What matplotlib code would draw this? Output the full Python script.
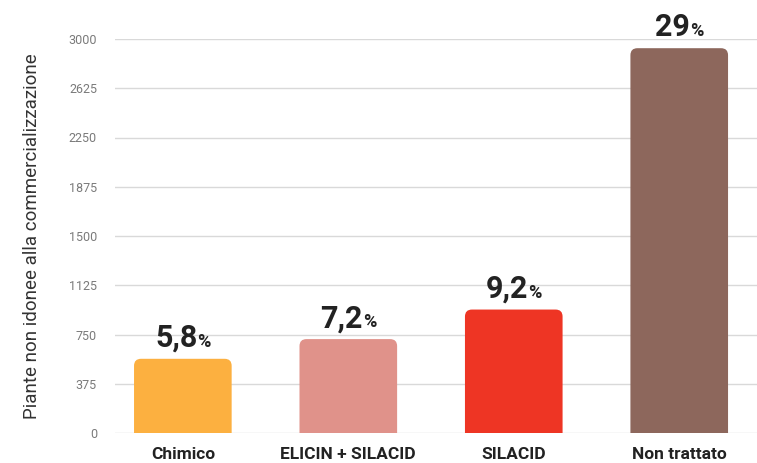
import matplotlib
matplotlib.use("Agg")
import matplotlib.pyplot as plt
from matplotlib.patches import FancyBboxPatch

# dati
categorie = ["Chimico", "ELICIN + SILACID", "SILACID", "Non trattato"]
valori = [565, 715, 940, 2930]
percentuali = ["5,8", "7,2", "9,2", "29"]
colori = ["#FCB040", "#E0928A", "#EE3524", "#8D675C"]
yticks = [0, 375, 750, 1125, 1500, 1875, 2250, 2625, 3000]

plt.rcParams['font.family'] = ['Roboto', 'DejaVu Sans']

fig = plt.figure(figsize=(7.57, 4.63), dpi=100)
ax = fig.add_axes([115 / 757, 30 / 463, 642 / 757, 394 / 463])

x = list(range(len(categorie)))
larghezza = 0.59
ax.set_xlim(-0.41, 3.47)
ax.set_ylim(0, 3000)

# barre normali (invisibili) per avere le posizioni dalla scala
barre = ax.bar(x, valori, width=larghezza, color="none", edgecolor="none")

# rapporto unità y / unità x per pixel, per arrotondare gli angoli
fig.canvas.draw()
inv = ax.transData.inverted()
p0 = inv.transform((0, 0))
p1 = inv.transform((1, 1))
aspetto = (p1[1] - p0[1]) / (p1[0] - p0[0])
raggio = 7 * (p1[0] - p0[0])

for b, c in zip(barre, colori):
    extra = raggio * aspetto * 2
    patch = FancyBboxPatch((b.get_x(), -extra), b.get_width(), b.get_height() + extra,
                           boxstyle=f"round,pad=0,rounding_size={raggio}",
                           mutation_aspect=aspetto, facecolor=c, edgecolor="none",
                           zorder=3, clip_on=True)
    ax.add_patch(patch)

ax.set_yticks(yticks)
ax.set_yticklabels([str(t) for t in yticks], fontsize=9, color="#7a7a7a")
ax.set_xticks(x)
ax.set_xticklabels(categorie, fontsize=12.5, fontweight="bold", color="#222222")
ax.tick_params(axis="y", length=0, pad=13)
ax.tick_params(axis="x", length=0, pad=10)
ax.grid(axis="y", color="#d9d9d9", linewidth=1)
ax.set_axisbelow(True)
for s in ax.spines.values():
    s.set_visible(False)

ax.set_ylabel("Piante non idonee alla commercializzazione", fontsize=13.5,
              color="#333333", labelpad=20)

# etichette percentuali: numero grande + % piccolo
renderer = fig.canvas.get_renderer()
for xi, v, p in zip(x, valori, percentuali):
    t1 = ax.annotate(p, (xi, v), xytext=(0, 12), textcoords="offset pixels",
                     ha="left", va="baseline", fontsize=22, fontweight="bold",
                     color="#222222", clip_on=False)
    t2 = ax.annotate("%", (xi, v), xytext=(0, 12), textcoords="offset pixels",
                     ha="left", va="baseline", fontsize=13, fontweight="bold",
                     color="#222222", clip_on=False)
    w1 = t1.get_window_extent(renderer).width
    w2 = t2.get_window_extent(renderer).width
    start = -(w1 + w2) / 2
    t1.set_position((start, 12))
    t2.set_position((start + w1, 12))

fig.savefig("out.png", dpi=100)
